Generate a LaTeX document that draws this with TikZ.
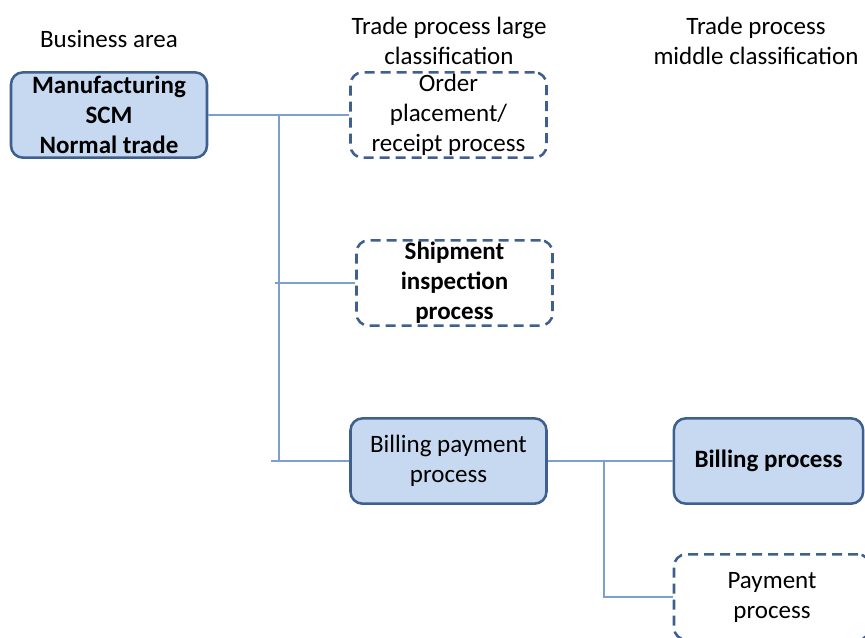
\documentclass[tikz,border=0pt]{standalone}
\usepackage{fontspec}
\setmainfont{Carlito}

\definecolor{boxfill}{HTML}{C6D9F1}
\definecolor{boxline}{HTML}{3F5F8E}
\definecolor{linkline}{HTML}{7C9FD0}
\newcommand\sizefont{\fontsize{18.75}{22.5}\selectfont}

\begin{document}
\begin{tikzpicture}[x=0.75pt,y=-0.75pt,font=\sizefont]
      \tikzstyle{every node}=[align=center]
      \tikzstyle{fullbox}=[rectangle,rounded corners=9pt,draw=boxline,fill=boxfill,line width=1.9pt,minimum width=147pt,minimum height=64pt,inner sep=0pt]
      \tikzstyle{dashbox}=[fullbox,fill=white,dash pattern=on 7.5pt off 4.5pt]
      \tikzstyle{boldtext}=[font=\sizefont\bfseries]
      \tikzstyle{link}=[draw=linkline,line width=0.8pt]
      \useasboundingbox (0,0) rectangle (865,637);

      \node (h0) at (109,39) {Business area};
      \node (h1) at (449,41) {Trade process large\\classification};
      \node (h2) at (756,41) {Trade process\\middle classification};

      \node[fullbox,boldtext] (area) at (109,115) {Manufacturing\\SCM\\Normal trade};
      \node[dashbox] (order) at (448.5,115) {Order\\placement/\\receipt process};
      \node[dashbox,boldtext] (ship) at (454.5,283) {Shipment\\inspection\\process};
      \node[fullbox] (bill) at (448.5,461) {Billing payment\\process};
      \node[fullbox,boldtext,minimum width=142pt] (billing) at (768.5,461) {Billing process};
      \node[dashbox] (pay) at (772,597) {Payment\\process};

      \coordinate (j1) at (279,115);
      \coordinate (j2) at (275,283);
      \coordinate (j3) at (271,461);
      \coordinate (j4) at (604,461);
      \path[link] (area) edge (order);
      \path[link] (j1) edge (j1 |- j3);
      \path[link] (j2) edge (ship.west);
      \path[link] (j3) edge (bill.west);
      \path[link] (bill) edge (billing);
      \draw[link] (j4) |- (pay.west);
\end{tikzpicture}
\end{document}
